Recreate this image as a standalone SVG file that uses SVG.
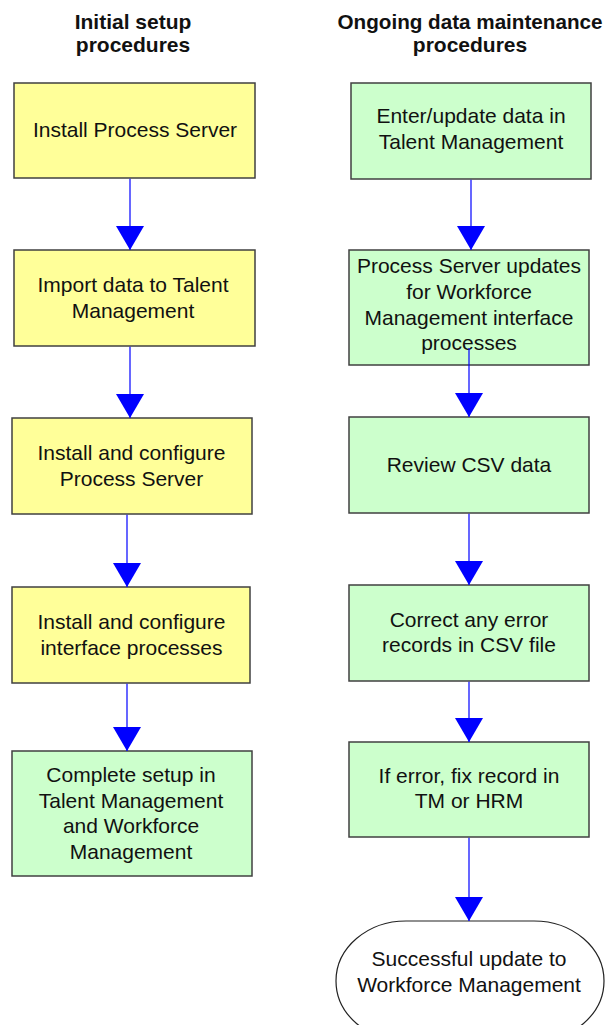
<svg xmlns="http://www.w3.org/2000/svg" width="607" height="1025" viewBox="0 0 607 1025">
<defs>
<style>
.title{font-family:"Liberation Sans",Arial,sans-serif;font-weight:bold;font-size:21px;fill:#111;text-anchor:middle}
.t{font-family:"Liberation Sans",Arial,sans-serif;font-size:21px;fill:#111;text-anchor:middle}
.y{fill:#FFFF99;stroke:#404040;stroke-width:1.5}
.g{fill:#CCFFCC;stroke:#404040;stroke-width:1.5}
.w{fill:#FFFFFF;stroke:#222;stroke-width:1.2}
.c{stroke:#0000FF;stroke-width:1.2;fill:none;marker-end:url(#ah)}
</style>
<marker id="ah" markerUnits="userSpaceOnUse" viewBox="0 -14 24 28" refX="24" refY="0" markerWidth="24" markerHeight="28" orient="auto">
<path d="M0,-14 L24,0 L0,14 Z" fill="#0000FF"/>
</marker>
</defs>
<rect width="607" height="1025" fill="#FFFFFF"/>
<g id="titles">
<text class="title" x="133" y="29">Initial setup</text>
<text class="title" x="133" y="52">procedures</text>
<text class="title" x="470" y="29" textLength="265" lengthAdjust="spacingAndGlyphs">Ongoing data maintenance</text>
<text class="title" x="470" y="52">procedures</text>
</g>
<g id="n1">
<rect class="y" x="14" y="83" width="241" height="95"/>
<text class="t" x="135" y="137">Install Process Server</text>
</g>
<g id="n2">
<rect class="y" x="14" y="250" width="241" height="96"/>
<text class="t" x="133" y="292">Import data to Talent</text>
<text class="t" x="133" y="318">Management</text>
</g>
<g id="n3">
<rect class="y" x="12" y="418" width="240" height="96"/>
<text class="t" x="131.5" y="460">Install and configure</text>
<text class="t" x="131.5" y="486">Process Server</text>
</g>
<g id="n4">
<rect class="y" x="12" y="587" width="238" height="96"/>
<text class="t" x="131.5" y="629">Install and configure</text>
<text class="t" x="131.5" y="655">interface processes</text>
</g>
<g id="n5">
<rect class="g" x="12" y="751" width="240" height="125"/>
<text class="t" x="131" y="782">Complete setup in</text>
<text class="t" x="131" y="807.5">Talent Management</text>
<text class="t" x="131" y="833">and Workforce</text>
<text class="t" x="131" y="858.5">Management</text>
</g>
<g id="m1">
<rect class="g" x="351" y="83" width="240" height="96"/>
<text class="t" x="471" y="123">Enter/update data in</text>
<text class="t" x="471" y="149">Talent Management</text>
</g>
<g id="m2">
<rect class="g" x="349" y="250" width="240" height="115"/>
<text class="t" x="469" y="273">Process Server updates</text>
<text class="t" x="469" y="299">for Workforce</text>
<text class="t" x="469" y="325">Management interface</text>
<text class="t" x="469" y="350">processes</text>
</g>
<g id="m3">
<rect class="g" x="349" y="417" width="240" height="96"/>
<text class="t" x="469" y="472">Review CSV data</text>
</g>
<g id="m4">
<rect class="g" x="349" y="585" width="240" height="96"/>
<text class="t" x="469" y="627">Correct any error</text>
<text class="t" x="469" y="652">records in CSV file</text>
</g>
<g id="m5">
<rect class="g" x="349" y="742" width="240" height="95"/>
<text class="t" x="469" y="783">If error, fix record in</text>
<text class="t" x="469" y="808">TM or HRM</text>
</g>
<g id="m6">
<path class="w" d="M406,921 H534 A70,60 0 0 1 534,1041 H406 A70,60 0 0 1 406,921 Z"/>
<text class="t" x="469" y="966">Successful update to</text>
<text class="t" x="469" y="992">Workforce Management</text>
</g>
<g id="connectors">
<line class="c" x1="130" y1="178.8" x2="130" y2="250"/>
<line class="c" x1="130" y1="346.8" x2="130" y2="418"/>
<line class="c" x1="127" y1="514.8" x2="127" y2="587"/>
<line class="c" x1="127" y1="683.8" x2="127" y2="751"/>
<line class="c" x1="471" y1="179.8" x2="471" y2="250"/>
<line class="c" x1="469" y1="348" x2="469" y2="417"/>
<line class="c" x1="469" y1="513.8" x2="469" y2="585"/>
<line class="c" x1="469" y1="681.8" x2="469" y2="742"/>
<line class="c" x1="469" y1="837.8" x2="469" y2="921"/>
</g>
</svg>
